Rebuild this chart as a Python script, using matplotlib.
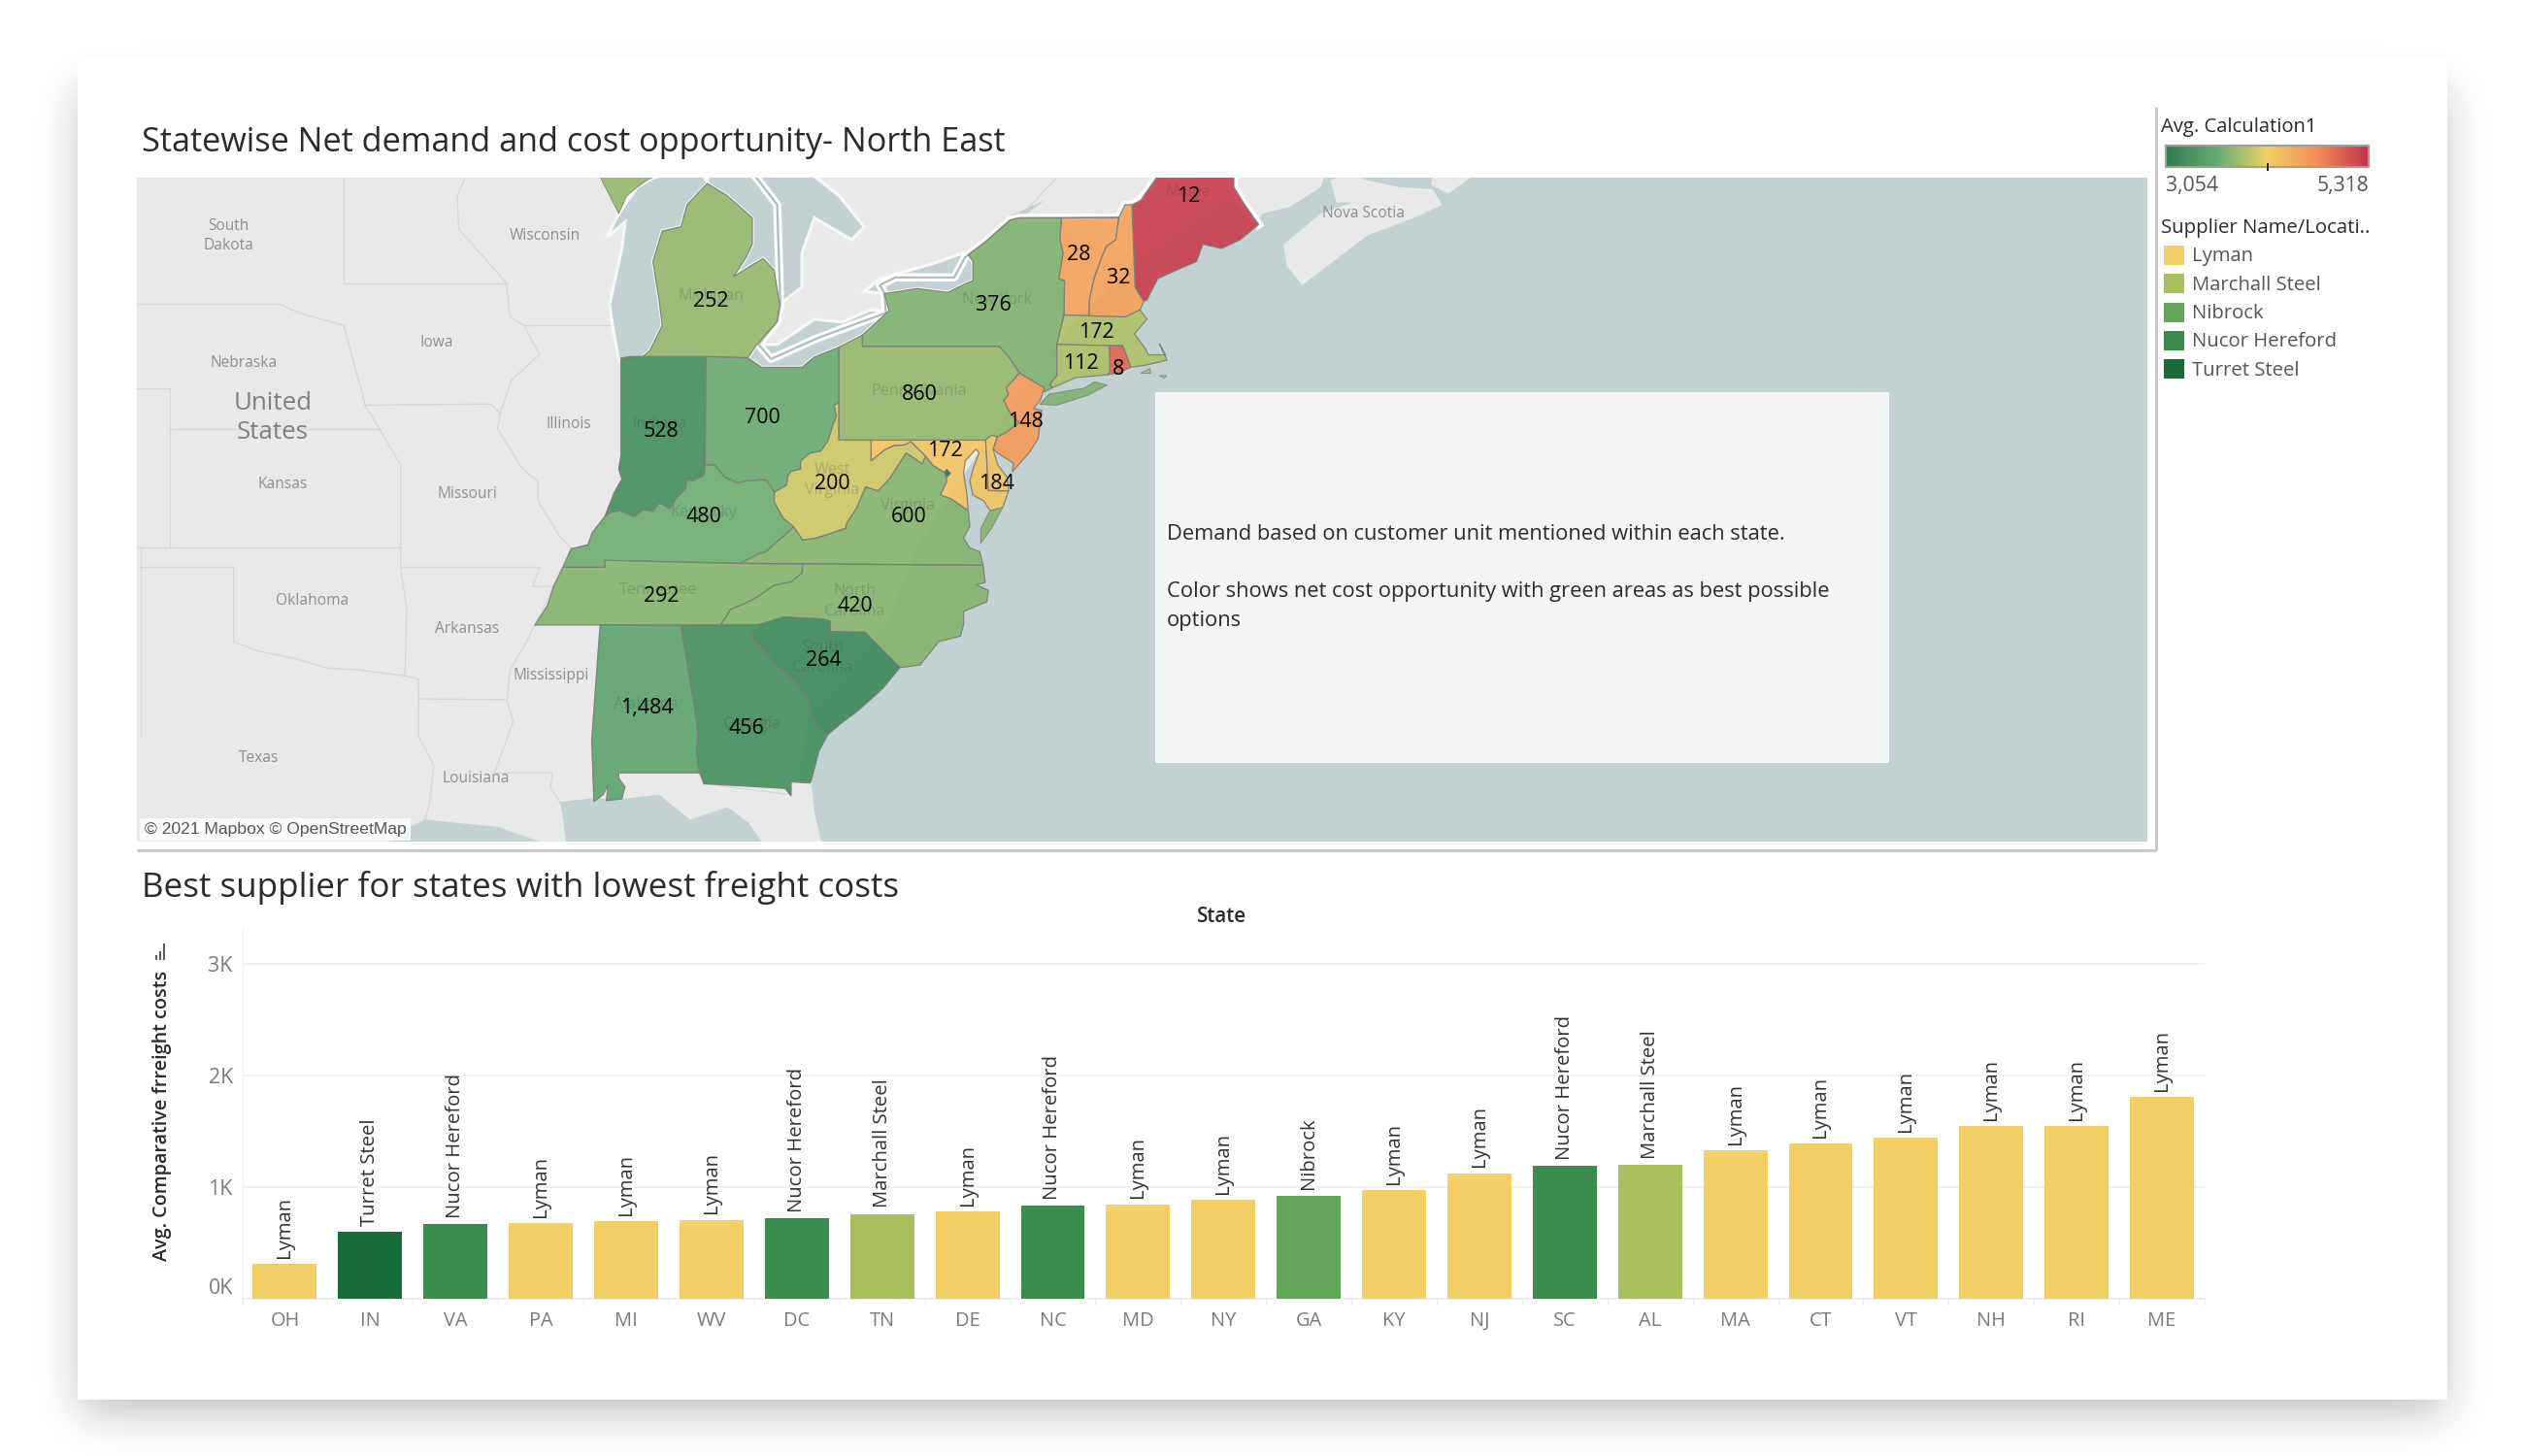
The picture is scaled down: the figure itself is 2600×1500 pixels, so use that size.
import math
import numpy as np
import matplotlib
matplotlib.use("Agg")
import matplotlib.pyplot as plt
from matplotlib.colors import LinearSegmentedColormap, Normalize

plt.rcParams['font.family'] = ['Open Sans', 'DejaVu Sans']

# === Bar chart data ===
states = ["OH", "IN", "VA", "PA", "MI", "WV", "DC", "TN", "DE", "NC", "MD", "NY",
          "GA", "KY", "NJ", "SC", "AL", "MA", "CT", "VT", "NH", "RI", "ME"]
freight_costs = [313, 605, 669, 683, 695, 710, 724, 762, 785, 837, 849, 886,
                 927, 976, 1127, 1193, 1205, 1332, 1396, 1445, 1546, 1546, 1813]
best_supplier = ["Lyman", "Turret Steel", "Nucor Hereford", "Lyman", "Lyman", "Lyman",
                 "Nucor Hereford", "Marchall Steel", "Lyman", "Nucor Hereford", "Lyman",
                 "Lyman", "Nibrock", "Lyman", "Lyman", "Nucor Hereford", "Marchall Steel",
                 "Lyman", "Lyman", "Lyman", "Lyman", "Lyman", "Lyman"]
suppliers = ["Lyman", "Marchall Steel", "Nibrock", "Nucor Hereford", "Turret Steel"]
supplier_colors = ["#f2d066", "#a8bf5b", "#62a658", "#3b8a4e", "#166c38"]

# === Map data ===
map_states = ["ME", "VT", "NH", "MA", "CT", "RI", "NY", "PA", "NJ", "MD", "DE", "WV",
              "VA", "OH", "IN", "MI", "KY", "TN", "NC", "SC", "GA", "AL"]
map_demand = ["12", "28", "32", "172", "112", "8", "376", "860", "148", "172", "184", "200",
              "600", "700", "528", "252", "480", "292", "420", "264", "456", "1,484"]
net_cost = [5230, 4570, 4570, 3935, 3925, 4980, 3740, 3830, 4640, 4300, 4300, 4050,
            3760, 3640, 3300, 3830, 3665, 3760, 3760, 3235, 3300, 3550]
dc_cost = 3150
cost_min, cost_max = 3054, 5318

# === Geography (lon, lat) ===
ohio_upper = [(-80.52, 40.64), (-80.67, 40.58), (-80.6, 40.3), (-80.72, 40.07), (-80.87, 39.7),
              (-81.1, 39.45), (-81.45, 39.4), (-81.75, 39.2), (-81.75, 39.0), (-82.05, 38.95),
              (-82.15, 38.85), (-82.2, 38.6), (-82.59, 38.42)]
ohio_mid = [(-82.59, 38.42), (-82.85, 38.72), (-83.0, 38.73), (-83.5, 38.7), (-83.77, 38.65),
            (-84.2, 38.8), (-84.5, 39.1), (-84.82, 39.1)]
ohio_in = [(-84.82, 39.1), (-84.85, 38.85), (-85.2, 38.7), (-85.4, 38.73), (-85.45, 38.5),
           (-85.75, 38.27), (-85.95, 38.0), (-86.3, 38.15), (-86.5, 37.93), (-86.8, 37.98),
           (-87.1, 37.8), (-87.55, 37.95), (-87.9, 37.9), (-88.05, 37.8)]
ohio_ky = [(-88.05, 37.8), (-88.45, 37.4), (-88.6, 37.08), (-89.13, 36.98), (-89.4, 36.5)]
delaware_river = [(-74.7, 41.36), (-75.13, 41.0), (-75.05, 40.85), (-75.2, 40.7), (-75.05, 40.45),
                  (-74.72, 40.15), (-75.15, 39.9), (-75.42, 39.8)]
potomac = [(-77.72, 39.32), (-77.5, 39.1), (-77.1, 38.9), (-77.04, 38.7), (-77.25, 38.35),
           (-76.9, 38.25), (-76.35, 37.95)]
wv_va_line = [(-77.72, 39.32), (-77.83, 39.13), (-78.35, 39.4), (-78.87, 38.77), (-79.25, 38.45),
              (-79.65, 38.55), (-79.95, 38.0), (-80.25, 37.65), (-80.3, 37.5), (-80.85, 37.35),
              (-81.25, 37.25), (-81.68, 37.2), (-81.97, 37.54)]
ky_va_line = [(-81.97, 37.54), (-82.3, 37.3), (-82.87, 36.9), (-83.1, 36.85), (-83.68, 36.6)]
tn_nc_line = [(-81.68, 36.59), (-81.7, 36.35), (-82.05, 36.12), (-82.6, 36.03), (-83.1, 35.75),
              (-83.5, 35.57), (-84.0, 35.4), (-84.32, 34.99)]
savannah_river = [(-83.1, 35.0), (-83.35, 34.7), (-82.55, 33.95), (-81.95, 33.5), (-81.5, 33.0),
                  (-81.4, 32.6), (-81.15, 32.2), (-80.87, 32.05)]
ct_river = [(-71.5, 45.01), (-71.6, 44.5), (-71.9, 44.35), (-72.05, 44.1), (-72.3, 43.6),
            (-72.45, 43.1), (-72.46, 42.73)]

state_outlines = {
    "IN": [(-87.53, 41.72), (-87.2, 41.76), (-84.8, 41.76), (-84.82, 39.1)] + ohio_in +
          [(-87.75, 38.4), (-87.5, 38.75), (-87.6, 39.0), (-87.53, 39.35)],
    "OH": [(-84.8, 41.76), (-83.45, 41.73), (-83.0, 41.5), (-82.7, 41.5), (-81.7, 41.5),
           (-81.3, 41.75), (-80.52, 41.98)] + ohio_upper + ohio_mid,
    "PA": [(-80.52, 41.98), (-79.76, 42.27), (-79.76, 42.0), (-75.35, 42.0), (-75.05, 41.75)] +
          delaware_river + [(-75.6, 39.84), (-75.79, 39.72), (-80.52, 39.72)],
    "NY": [(-79.76, 42.27), (-78.9, 42.85), (-79.05, 43.25), (-78.0, 43.37), (-77.0, 43.28),
           (-76.4, 43.5), (-76.2, 43.55), (-76.2, 44.0), (-76.35, 44.15), (-75.8, 44.45),
           (-75.0, 44.95), (-74.7, 45.0), (-73.35, 45.0), (-73.4, 44.5), (-73.3, 44.2),
           (-73.43, 43.6), (-73.25, 43.55), (-73.27, 42.75), (-73.5, 42.05), (-73.5, 41.3),
           (-73.72, 41.1), (-73.65, 41.0), (-73.9, 40.9), (-73.9, 41.0), (-74.7, 41.36),
           (-75.05, 41.75), (-75.35, 42.0), (-79.76, 42.0)],
    "NJ": [(-74.7, 41.36), (-73.9, 41.0), (-74.03, 40.7), (-74.25, 40.5), (-73.98, 40.45),
           (-74.1, 39.75), (-74.4, 39.4), (-74.93, 38.93), (-74.9, 39.15), (-75.4, 39.4),
           (-75.55, 39.5), (-75.42, 39.8)] + delaware_river[::-1],
    "DE": [(-75.79, 39.72), (-75.6, 39.84), (-75.42, 39.8), (-75.55, 39.5), (-75.4, 39.1),
           (-75.1, 38.8), (-75.05, 38.45), (-75.7, 38.46)],
    "MD": [(-79.48, 39.72), (-75.79, 39.72), (-75.7, 38.46), (-75.05, 38.45), (-75.24, 38.03),
           (-75.65, 37.95), (-75.85, 38.2), (-76.2, 38.35), (-76.3, 38.7), (-76.2, 39.0),
           (-76.0, 39.4), (-76.1, 39.5), (-76.45, 39.2), (-76.5, 38.9), (-76.4, 38.4),
           (-76.35, 37.95)] + potomac[::-1] +
          [(-78.2, 39.68), (-78.4, 39.6), (-78.75, 39.58), (-79.05, 39.47), (-79.48, 39.2)],
    "VA": [(-83.68, 36.6)] + ky_va_line[::-1] + wv_va_line[::-1] + potomac +
          [(-76.3, 37.55), (-76.5, 37.25), (-76.3, 37.0), (-75.98, 36.9), (-75.87, 36.55), (-81.68, 36.59)],
    "WV": [(-80.52, 40.64), (-80.52, 39.72), (-79.48, 39.72), (-79.48, 39.2), (-79.05, 39.47),
           (-78.75, 39.58), (-78.4, 39.6), (-78.2, 39.68)] + wv_va_line +
          [(-82.3, 37.75), (-82.6, 38.17)] + ohio_upper[::-1],
    "KY": ohio_mid + ohio_in + ohio_ky +
          [(-88.05, 36.5), (-88.05, 36.68)] + ky_va_line[::-1] + [(-82.3, 37.75), (-82.6, 38.17)],
    "TN": [(-89.4, 36.5), (-88.05, 36.5), (-88.05, 36.68), (-83.68, 36.6)] + tn_nc_line +
          [(-90.3, 34.99), (-89.9, 35.5), (-89.7, 36.0)],
    "NC": tn_nc_line[::-1] + [(-75.87, 36.55), (-75.8, 36.1), (-76.1, 36.05), (-75.7, 35.9), (-75.75, 35.6),
                              (-76.5, 35.35), (-76.5, 35.0), (-76.6, 34.7), (-77.3, 34.55), (-77.9, 33.93),
                              (-78.55, 33.86), (-79.67, 34.8), (-80.8, 34.82), (-80.8, 35.1),
                              (-81.05, 35.15), (-82.3, 35.2), (-83.1, 35.0)],
    "SC": [(-82.3, 35.2), (-81.05, 35.15), (-80.8, 35.1), (-80.8, 34.82), (-79.67, 34.8),
           (-78.55, 33.86), (-79.1, 33.3), (-79.9, 32.7), (-80.45, 32.35)] + savannah_river[::-1],
    "GA": [(-85.6, 34.98), (-84.32, 34.99)] + savannah_river +
          [(-81.15, 31.6), (-81.4, 30.8), (-81.45, 30.72), (-82.05, 30.75), (-82.05, 30.36),
           (-82.25, 30.57), (-84.86, 30.7), (-85.0, 31.0), (-85.1, 31.55), (-85.05, 32.1), (-85.18, 32.87)],
    "AL": [(-88.2, 35.0), (-85.6, 34.98), (-85.18, 32.87), (-85.05, 32.1), (-85.1, 31.55), (-85.0, 31.0),
           (-87.6, 31.0), (-87.6, 30.85), (-87.4, 30.62), (-87.5, 30.28), (-88.0, 30.23),
           (-87.95, 30.65), (-88.1, 30.4), (-88.4, 30.2), (-88.47, 31.9)],
    "MI": [(-86.82, 41.76), (-84.8, 41.76), (-83.45, 41.73), (-83.15, 42.05), (-82.5, 42.6), (-82.42, 43.0),
           (-82.6, 43.8), (-82.95, 44.07), (-83.35, 43.9), (-83.9, 43.65), (-83.5, 44.1), (-83.3, 44.4),
           (-83.3, 45.0), (-84.1, 45.5), (-84.75, 45.78), (-85.0, 45.6), (-85.4, 45.3), (-85.6, 44.8),
           (-86.2, 44.7), (-86.5, 44.0), (-86.3, 43.1), (-86.2, 42.5), (-86.6, 41.9)],
    "VT": [(-73.35, 45.0)] + ct_river + [(-73.27, 42.75), (-73.25, 43.55), (-73.43, 43.6), (-73.3, 44.2), (-73.4, 44.5)],
    "NH": [(-71.5, 45.01), (-71.3, 45.3), (-71.08, 45.3), (-70.98, 43.4), (-70.7, 43.07), (-70.82, 42.87),
           (-71.3, 42.7)] + ct_river[::-1],
    "ME": [(-71.08, 45.3), (-70.8, 45.4), (-70.3, 45.9), (-70.0, 46.7), (-69.2, 47.45), (-68.3, 47.35),
           (-67.8, 47.07), (-67.8, 45.7), (-67.45, 45.3), (-67.0, 44.85), (-67.6, 44.5), (-68.2, 44.3),
           (-68.8, 44.4), (-69.0, 44.0), (-69.8, 43.75), (-70.25, 43.6), (-70.6, 43.1), (-70.7, 43.07), (-70.98, 43.4)],
    "MA": [(-73.5, 42.05), (-73.27, 42.75), (-72.46, 42.73), (-71.3, 42.7), (-70.82, 42.87), (-70.6, 42.65),
           (-71.0, 42.3), (-70.65, 41.95), (-70.55, 41.8), (-70.0, 41.8), (-70.2, 42.07), (-69.95, 41.67),
           (-70.65, 41.55), (-71.12, 41.5), (-71.2, 41.67), (-71.38, 42.02), (-71.8, 42.02)],
    "CT": [(-73.5, 42.05), (-71.8, 42.02), (-71.79, 41.4), (-71.86, 41.32), (-72.9, 41.25), (-73.65, 41.0),
           (-73.72, 41.1), (-73.5, 41.3)],
    "RI": [(-71.8, 42.02), (-71.38, 42.02), (-71.2, 41.67), (-71.12, 41.5), (-71.5, 41.37), (-71.86, 41.32), (-71.79, 41.4)],
}
extra_parts = {
    "NY": [[(-74.05, 40.6), (-73.75, 40.85), (-72.6, 41.0), (-72.3, 41.15), (-71.87, 41.07),
            (-72.5, 40.82), (-73.5, 40.58)]],
    "MA": [[(-70.8, 41.36), (-70.5, 41.47), (-70.48, 41.35)], [(-70.2, 41.3), (-69.97, 41.3), (-70.05, 41.24)]],
    "VA": [[(-75.65, 37.95), (-75.24, 38.03), (-75.6, 37.5), (-75.95, 37.12), (-75.95, 37.5)]],
    "MI": [[(-88.4, 46.2), (-87.6, 45.1), (-87.35, 45.5), (-87.0, 45.7), (-86.7, 45.85), (-86.3, 46.0), (-86.0, 46.2)]],
}
dc_outline = [(-77.12, 38.93), (-77.04, 39.0), (-76.91, 38.89), (-77.04, 38.79)]

land_outline = [(-105, 47), (-64.6, 47), (-64.7, 46.2), (-64.9, 45.9), (-65, 45.7), (-66, 45.25), (-66.9, 45.1),
                (-67.1, 44.85), (-68, 45.5), (-71, 44), (-73, 42.5), (-74.5, 41), (-75.5, 40), (-76.8, 38.5),
                (-78, 37), (-79, 35), (-81.5, 32.5), (-81.8, 30.8), (-81.4, 30.7), (-81.3, 29.9), (-81, 28.8),
                (-82.8, 28.8), (-83.4, 29.6), (-84.1, 30.05), (-85.3, 29.7), (-86.3, 30.4), (-87.5, 30.28),
                (-88.4, 30.3), (-89.5, 30.2), (-89.4, 29.8), (-89.3, 29.0), (-90.2, 29.1), (-91.5, 29.5),
                (-93.85, 29.7), (-94.7, 29.35), (-95.2, 28.8), (-105, 28.8)]
nova_scotia = [(-66.2, 44.4), (-66.1, 43.9), (-65.6, 43.45), (-64.6, 44.0), (-63.5, 44.6), (-62, 45), (-61.1, 45.3),
               (-61.4, 45.65), (-62.5, 45.7), (-63.5, 45.85), (-64.2, 46.0), (-64.7, 45.85), (-64.5, 45.35),
               (-64, 45.35), (-65, 45.1)]
cape_breton = [(-60.9, 45.55), (-60.1, 45.95), (-60.3, 46.3), (-61.3, 46.3), (-61.45, 45.75)]
lakes = [
    [(-87.8, 42.5), (-87.6, 41.65), (-87.2, 41.62), (-86.82, 41.76), (-86.6, 41.9), (-86.2, 42.5), (-86.3, 43.1),
     (-86.5, 44.0), (-86.2, 44.7), (-85.6, 44.8), (-85.4, 45.3), (-85.0, 45.6), (-84.75, 45.78), (-84.9, 46.0),
     (-85.5, 46.1), (-86.5, 45.9), (-87, 45.7), (-87.6, 45.1), (-88, 44.55), (-87.4, 44.9), (-87.5, 44.3), (-87.9, 43.0)],
    [(-84.75, 45.78), (-84.1, 45.5), (-83.3, 45.0), (-83.3, 44.4), (-83.5, 44.1), (-83.9, 43.65), (-83.35, 43.9),
     (-82.95, 44.07), (-82.6, 43.8), (-82.42, 43.0), (-81.7, 43.4), (-81.7, 44.2), (-81.3, 45.0), (-80.1, 44.5),
     (-79.7, 44.8), (-80.5, 45.5), (-81.5, 46.05), (-83.5, 46.1), (-84.2, 46.1), (-84.75, 46.0)],
    [(-83.45, 41.73), (-83.0, 41.5), (-82.7, 41.5), (-81.7, 41.5), (-81.3, 41.75), (-80.52, 41.98), (-79.76, 42.27),
     (-78.9, 42.85), (-79.5, 42.87), (-80.4, 42.58), (-81.3, 42.65), (-82.5, 42.05), (-83.15, 42.05)],
    [(-79.05, 43.25), (-78, 43.37), (-77, 43.28), (-76.4, 43.5), (-76.2, 43.55), (-76.2, 44.0), (-76.5, 44.2),
     (-77.5, 43.95), (-79.2, 43.6), (-79.7, 43.3)],
]
country_border = [(-83.6, 46.3), (-82.5, 45.3), (-82.4, 43.0), (-82.5, 42.6), (-83.1, 42.05), (-82.7, 41.7),
                  (-81.2, 42.2), (-79.0, 42.8), (-79.05, 43.27), (-79.2, 43.45), (-78.7, 43.63), (-76.8, 43.63),
                  (-76.45, 44.1), (-75.8, 44.45), (-75.0, 44.95), (-74.7, 45.0), (-71.5, 45.01)]
maine_border = [(-71.5, 45.01), (-71.3, 45.3), (-71.08, 45.3), (-70.8, 45.4), (-70.3, 45.9), (-70.0, 46.7)]
maine_east_border = [(-67.8, 47.07), (-67.8, 45.7), (-67.45, 45.3), (-67.0, 44.85)]
background_lines = [
    [(-105, 43), (-98.5, 43), (-97.9, 42.8), (-96.45, 42.5)],
    [(-96.45, 46.3), (-96.45, 43.5), (-91.22, 43.5)],
    [(-96.45, 42.5), (-96.1, 41.5), (-95.9, 41.0), (-95.77, 40.58), (-95.3, 40), (-94.62, 39.1), (-94.62, 36.5)],
    [(-95.77, 40.58), (-91.73, 40.61), (-91.42, 40.38)],
    [(-92.3, 46.3), (-92.8, 45.5), (-92.75, 44.75), (-91.22, 43.5), (-91.1, 42.7), (-90.65, 42.5), (-90.15, 41.8),
     (-91.05, 41.2), (-91.42, 40.38), (-91.5, 40.0), (-90.7, 39.0), (-90.2, 38.7), (-90.2, 38.2), (-89.5, 37.3),
     (-89.13, 36.98), (-89.4, 36.5), (-89.7, 36.0), (-90.3, 34.99), (-90.6, 34.5), (-91.1, 33.8), (-91.2, 33.0),
     (-91.0, 32.4), (-91.6, 31.0)],
    [(-90.65, 42.5), (-87.8, 42.5)],
    [(-105, 41), (-102.05, 41), (-102.05, 37)],
    [(-102.05, 40), (-95.3, 40)],
    [(-105, 37), (-94.62, 37)],
    [(-94.62, 36.5), (-90.15, 36.5), (-90.37, 36.0), (-89.7, 36.0)],
    [(-103, 37), (-103, 32)],
    [(-103, 36.5), (-100, 36.5), (-100, 34.55), (-99.2, 34.3), (-98, 34.1), (-97, 33.85), (-96, 33.8), (-94.48, 33.64)],
    [(-94.62, 36.5), (-94.43, 35.4), (-94.48, 33.64), (-94.04, 33.55), (-94.04, 32), (-93.55, 31.2), (-93.7, 30.1), (-93.85, 29.7)],
    [(-94.04, 33.02), (-91.2, 33.0)],
    [(-91.6, 31), (-89.73, 31), (-89.8, 30.6), (-89.5, 30.2)],
    [(-87.53, 41.72), (-87.53, 39.35), (-87.6, 39.0), (-87.5, 38.75), (-87.75, 38.4), (-88.05, 37.8)],
    [(-88.2, 35.0), (-88.47, 31.9), (-88.4, 30.2)],
    [(-85.0, 31.0), (-87.6, 31.0)],
    [(-74.7, 45.0), (-73.0, 46.3)],
    [(-82.1, 30.4), (-84.86, 30.7)],
]


def merc(lat):
    return np.degrees(np.log(np.tan(np.pi / 4 + np.radians(np.asarray(lat, dtype=float)) / 2)))


def project(points):
    pts = np.array(points, dtype=float)
    return pts[:, 0], merc(pts[:, 1])


W, H = 2600, 1500
fig = plt.figure(figsize=(13, 7.5), dpi=200, facecolor="white")


def pixel_axes(left, top, right, bottom, zorder):
    return fig.add_axes([left / W, 1 - bottom / H, (right - left) / W, (bottom - top) / H], zorder=zorder)


# === Page background: card with soft shadow ===
bg = pixel_axes(0, 0, W, H, 0)
bg.set_xlim(0, W)
bg.set_ylim(H, 0)
bg.axis("off")
card_l, card_t, card_r, card_b = 81, 60, 2519, 1440
erf = np.vectorize(math.erf)
xs = np.arange(W, dtype=float)
ys = np.arange(H, dtype=float)
sigma = 22 * math.sqrt(2)
sx = 0.5 * (erf((xs - card_l) / sigma) - erf((xs - card_r) / sigma))
sy = 0.5 * (erf((ys - (card_t + 30)) / sigma) - erf((ys - (card_b + 16)) / sigma))
shade = 1 - 0.24 * np.outer(sy, sx)
bg.imshow(shade, cmap="gray", vmin=0, vmax=1, extent=(0, W, H, 0), aspect="auto", interpolation="bilinear")
bg.fill([card_l, card_r, card_r, card_l], [card_t, card_t, card_b, card_b], color="white")
bg.plot([141, 2221], [876, 876], color="#c9c9c9", lw=1.1, solid_capstyle="butt")
bg.plot([2221, 2221], [110, 876], color="#c9c9c9", lw=1.1, solid_capstyle="butt")

# === Map ===
WATER = "#c2d2d3"
LAND = "#e9e9e9"
STATE_EDGE = "#7c7f78"
ax_map = pixel_axes(141, 183, 2212, 867, 1)
px_per_deg = 32.0
ax_map.set_xlim(-84.8 + (141 - 727) / px_per_deg, -84.8 + (2212 - 727) / px_per_deg)
ax_map.set_ylim(46.36 + (357 - 867) / px_per_deg, 46.36 + (357 - 183) / px_per_deg)
ax_map.set_facecolor(WATER)
ax_map.set_xticks([])
ax_map.set_yticks([])
for spine in ax_map.spines.values():
    spine.set_visible(False)

for shape in [land_outline, nova_scotia, cape_breton]:
    ax_map.fill(*project(shape), color=LAND, lw=0, zorder=1)
for line in background_lines:
    ax_map.plot(*project(line), color="#d6d8d8", lw=0.5, zorder=2)
for lake in lakes:
    ax_map.fill(*project(lake), facecolor=WATER, edgecolor="#f6f6f6", lw=1.2, zorder=2)
ax_map.fill(*project([(-76.35, 44.15), (-75.8, 44.5), (-75.0, 45.05), (-73.9, 45.4), (-74.8, 44.9), (-75.9, 44.3)]),
            color=WATER, lw=0, zorder=2)
for border in [country_border, maine_border, maine_east_border]:
    ax_map.plot(*project(border), color="white", lw=3.0, zorder=3, solid_joinstyle="round")
ax_map.plot(*project(country_border), color="#b5b9b9", lw=0.8, zorder=3.1)

cost_cmap = LinearSegmentedColormap.from_list(
    "net_cost",
    [(0, "#2f7d50"), (0.25, "#66aa74"), (0.375, "#a8c06c"), (0.5, "#f2d166"),
     (0.75, "#f58d58"), (1, "#c2334e")])
norm = Normalize(cost_min, cost_max)

for st, cost in zip(map_states, net_cost):
    color = cost_cmap(norm(cost))
    ax_map.fill(*project(state_outlines[st]), facecolor=color, edgecolor=STATE_EDGE, lw=0.45, alpha=0.92, zorder=4)
    for part in extra_parts.get(st, []):
        ax_map.fill(*project(part), facecolor=color, edgecolor=STATE_EDGE, lw=0.3, alpha=0.92, zorder=4)
ax_map.fill(*project(dc_outline), facecolor=cost_cmap(norm(dc_cost)), edgecolor=STATE_EDGE, lw=0.3, zorder=4.5)

# === Foreground text layer in page pixels ===
fg = pixel_axes(0, 0, W, H, 5)
fg.set_xlim(0, W)
fg.set_ylim(H, 0)
fg.axis("off")
fg.patch.set_alpha(0)

DARK = "#2b2b2b"
fg.text(146, 147, "Statewise Net demand and cost opportunity- North East", fontsize=12.35, color=DARK, va="center")
fg.text(146, 915, "Best supplier for states with lowest freight costs", fontsize=12.6, color=DARK, va="center")

for name, x, y in [("South", 235, 233), ("Dakota", 235, 253), ("Wisconsin", 561, 243), ("Iowa", 450, 353),
                   ("Nebraska", 251, 374), ("Illinois", 586, 437), ("Kansas", 291, 499), ("Missouri", 481, 509),
                   ("Oklahoma", 322, 619), ("Arkansas", 481, 648), ("Mississippi", 568, 696), ("Texas", 267, 781),
                   ("Louisiana", 490, 802), ("Nova Scotia", 1404, 220)]:
    fg.text(x, y, name, fontsize=5.6, color="#8f8f8f", ha="center", va="center")
for name, y in [("United", 416), ("States", 446)]:
    fg.text(281, y, name, fontsize=9.3, color="#7f7f7f", ha="center", va="center")

# faint place names that sit under the filled states
for name, x, y in [("Michigan", 732, 305), ("Indiana", 680, 437), ("Kentucky", 725, 528), ("Tennessee", 678, 608),
                   ("Virginia", 935, 521), ("Pennsylvania", 947, 403), ("New York", 1027, 309), ("North", 880, 609),
                   ("Carolina", 880, 630), ("South", 847, 667), ("Carolina", 847, 688), ("Georgia", 775, 746),
                   ("Alabama", 665, 726), ("Maine", 1224, 198), ("West", 857, 484), ("Virginia", 857, 505)]:
    fg.text(x, y, name, fontsize=5.8, color="#3c3c3c", alpha=0.22, ha="center", va="center")

label_px = [(1224, 202), (1111, 262), (1152, 286), (1129, 342), (1113, 374), (1152, 381), (1023, 314), (947, 407),
            (1056, 435), (973, 465), (1026, 498), (857, 498), (936, 533), (785, 431), (681, 444), (732, 310),
            (725, 532), (681, 614), (881, 625), (848, 681), (769, 751), (666, 729)]
for text, (x, y) in zip(map_demand, label_px):
    fg.text(x, y, text, fontsize=7.7, color="black", ha="center", va="center")

fg.fill([144, 423, 423, 144], [843, 843, 866, 866], color="white", alpha=0.8, lw=0)
fg.text(149, 855, "© 2021 Mapbox © OpenStreetMap", fontsize=6.3, family="Liberation Sans", color="#555555", va="center")

# note box
fg.fill([1190, 1946, 1946, 1190], [404, 404, 786, 786], color="#f4f6f6", lw=0)
for text, y in [("Demand based on customer unit mentioned within each state.", 550),
                ("Color shows net cost opportunity with green areas as best possible", 610),
                ("options", 639)]:
    fg.text(1202, y, text, fontsize=7.9, color=DARK, va="center")

# legend
fg.text(2226, 131, "Avg. Calculation1", fontsize=7.3, color=DARK, va="center")
gradient = np.linspace(0, 1, 256)[None, :]
fg.imshow(gradient, cmap=cost_cmap, extent=(2231, 2440, 172, 150), aspect="auto", zorder=2)
fg.set_xlim(0, W)
fg.set_ylim(H, 0)
fg.plot([2231, 2440, 2440, 2231, 2231], [150, 150, 172, 172, 150], color="#a09e95", lw=0.8, zorder=3)
fg.plot([2336, 2336], [169, 175], color="#222222", lw=0.7, zorder=3)
fg.text(2231, 191, f"{cost_min:,}", fontsize=7.6, color="#555555", va="center")
fg.text(2440, 191, f"{cost_max:,}", fontsize=7.6, color="#555555", va="center", ha="right")
fg.text(2226, 235, "Supplier Name/Locati..", fontsize=7.35, color=DARK, va="center")
for i, (name, color) in enumerate(zip(suppliers, supplier_colors)):
    y = 263 + i * 29.3
    fg.fill([2229, 2250, 2250, 2229], [y - 10, y - 10, y + 10, y + 10], color=color, lw=0)
    fg.text(2258, y + 1.5, name, fontsize=7.3, color="#555555", va="center")

# axis headers
fg.text(1259, 944, "State", fontsize=7.4, color=DARK, ha="center", va="center", fontweight="semibold")
fg.text(167, 1149, "Avg. Comparative frreight costs", fontsize=7.1, color=DARK, rotation=90,
        ha="center", va="center", fontweight="semibold")
for x, y0, y1 in [(161, 985, 988), (165, 981, 988), (169, 973, 988)]:
    fg.plot([x, x], [y0, y1], color="#555555", lw=0.7)

# === Bars ===
ax_bar = pixel_axes(249.5, 957, 2271, 1338.3, 2)
positions = np.arange(len(states))
colors = [supplier_colors[suppliers.index(s)] for s in best_supplier]
ax_bar.bar(positions, freight_costs, width=0.75, color=colors, zorder=3)
ax_bar.set_xlim(-0.5, len(states) - 0.5)
ax_bar.set_ylim(0, 3313)
ax_bar.set_yticks([0, 1000, 2000, 3000])
ax_bar.set_yticklabels(["0K", "1K", "2K", "3K"])
ax_bar.get_yticklabels()[0].set_va("bottom")
ax_bar.set_xticks(positions)
ax_bar.set_xticklabels(states)
ax_bar.set_xticks(np.arange(len(states) + 1) - 0.5, minor=True)
ax_bar.tick_params(axis="y", length=0, labelsize=7.7, labelcolor="#7a7a7a", pad=3.5)
ax_bar.tick_params(axis="x", which="major", length=0, labelsize=7.2, labelcolor="#7a7a7a", pad=4.6)
ax_bar.tick_params(axis="x", which="minor", length=2.6, width=0.4, color="#ececec")
ax_bar.grid(axis="y", color="#f0f0f0", lw=0.6, zorder=0)
ax_bar.set_axisbelow(True)
for name in ["top", "right"]:
    ax_bar.spines[name].set_visible(False)
ax_bar.spines["left"].set_color("#f0f0f0")
ax_bar.spines["left"].set_linewidth(0.4)
ax_bar.spines["bottom"].set_color("#ececec")
ax_bar.spines["bottom"].set_linewidth(0.6)
ax_bar.patch.set_alpha(0)
for pos, value, supplier in zip(positions, freight_costs, best_supplier):
    ax_bar.annotate(supplier, (pos, value), xytext=(0, 2.2), textcoords="offset points", rotation=90,
                    ha="center", va="bottom", fontsize=7.3, color="#333333", zorder=4, annotation_clip=False)

fig.savefig("out.png", dpi=200)
